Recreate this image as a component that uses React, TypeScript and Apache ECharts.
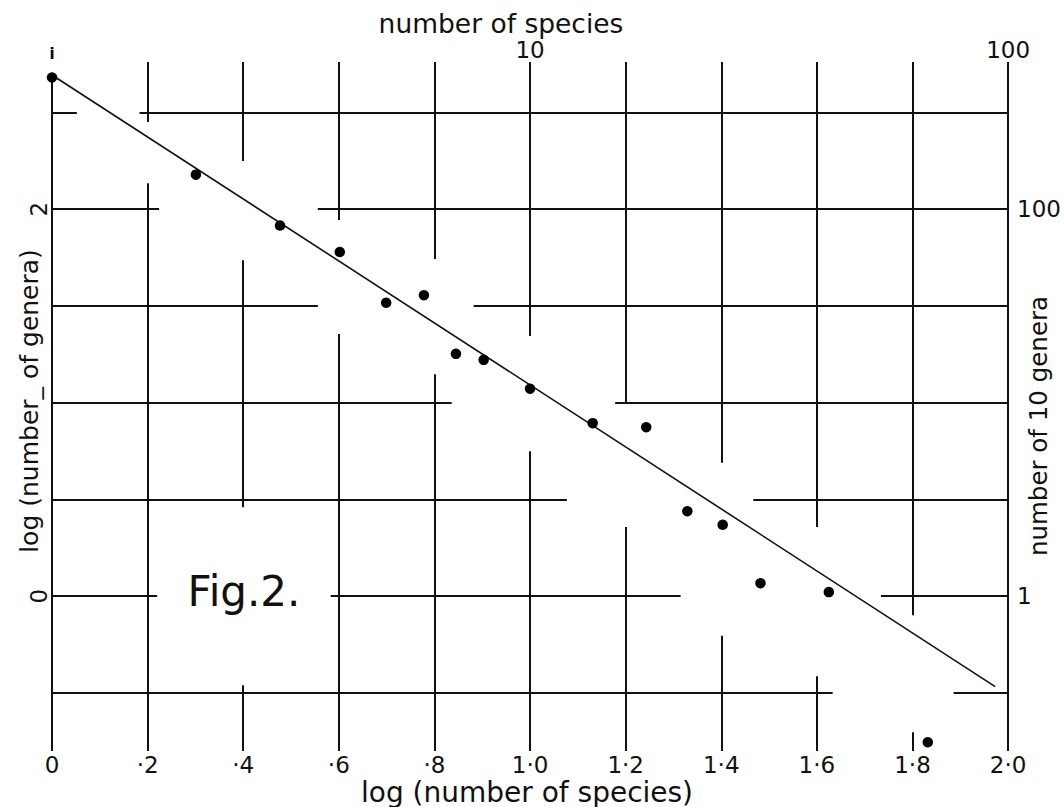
import React, { useEffect, useRef } from "react";
import * as echarts from "echarts";

// log10(number of species) and log10(number of genera)
const logSpecies = [0, 0.301, 0.477, 0.602, 0.699, 0.778, 0.845, 0.903, 1.0, 1.131, 1.243, 1.329, 1.403, 1.482, 1.625, 1.832];
const logGenera = [2.68, 2.178, 1.915, 1.778, 1.516, 1.555, 1.252, 1.221, 1.072, 0.894, 0.873, 0.439, 0.369, 0.067, 0.021, -0.755];

// fitted straight line (start, end)
const fitX = [0.008, 1.973];
const fitY = [2.68, -0.467];

// tick labels
const bottomTickValues = [0, 0.2, 0.4, 0.6, 0.8, 1.0, 1.2, 1.4, 1.6, 1.8, 2.0];
const bottomTickLabels = ["0", "·2", "·4", "·6", "·8", "1·0", "1·2", "1·4", "1·6", "1·8", "2·0"];
const topTickValues = [0, 1, 2];
const topTickLabels = ["{s|i}", "10", "100"];
const leftTickValues = [0, 2];
const leftTickLabels = ["0", "2"];
const rightTickValues = [0, 2];
const rightTickLabels = ["1", "100"];

// hand-drawn grid: vertical rules [x, yFrom, yTo] and horizontal rules [y, xFrom, xTo]
const verticalRules: number[][] = [
  [0, 2.68, -0.8],
  [0.2, 2.76, 2.45], [0.2, 2.134, -0.8],
  [0.4, 2.76, 2.248], [0.4, 1.736, 0.46], [0.4, -0.46, -0.8],
  [0.6, 2.76, 1.943], [0.6, 1.354, -0.8],
  [0.8, 2.76, 1.742], [0.8, 1.147, -0.8],
  [1.0, 2.76, 1.344], [1.0, 0.749, -0.8],
  [1.2, 2.76, 1.0], [1.2, 0.357, -0.8],
  [1.4, 2.76, 0.69], [1.4, -0.205, -0.8],
  [1.6, 2.76, 0.357], [1.6, -0.414, -0.8],
  [1.8, 2.76, -0.098], [1.8, -0.703, -0.8],
  [2.0, 2.76, -0.8],
];
const horizontalRules: number[][] = [
  [2.5, 0, 0.052], [2.5, 0.183, 2.0],
  [2.0, 0, 0.224], [2.0, 0.556, 2.0],
  [1.5, 0, 0.556], [1.5, 0.882, 2.0],
  [1.0, 0, 0.836], [1.0, 1.178, 2.0],
  [0.5, 0, 1.077], [0.5, 1.467, 2.0],
  [0.0, 0, 0.22], [0.0, 0.583, 1.315], [0.0, 1.734, 2.0],
  [-0.5, 0, 1.633], [-0.5, 1.886, 2.0],
];

const FONT = "DejaVu Sans";
const INK = "#111";

function pick(values: number[], labels: string[]) {
  return (v: number) => {
    for (let i = 0; i < values.length; i++) {
      if (Math.abs(v - values[i]) < 1e-6) return labels[i];
    }
    return "";
  };
}

export default function App() {
  const ref = useRef<HTMLDivElement>(null);

  useEffect(() => {
    if (!ref.current) return;
    const chart = echarts.init(ref.current, null, { renderer: "svg" });

    const ruleData = [
      ...verticalRules.map((r) => ({ coords: [[r[0], r[1]], [r[0], r[2]]] })),
      ...horizontalRules.map((r) => ({ coords: [[r[1], r[0]], [r[2], r[0]]] })),
    ];

    const hiddenAxis = {
      axisLine: { show: false },
      axisTick: { show: false },
      splitLine: { show: false },
    };

    chart.setOption({
      animation: false,
      backgroundColor: "#fff",
      textStyle: { fontFamily: FONT, color: INK },
      grid: { left: 52, right: 48, top: 62, bottom: 56 },
      xAxis: [
        {
          type: "value",
          position: "bottom",
          min: 0,
          max: 2,
          interval: 0.2,
          ...hiddenAxis,
          axisLabel: {
            formatter: pick(bottomTickValues, bottomTickLabels),
            fontSize: 23,
            fontFamily: FONT,
            color: INK,
            margin: 2,
            showMinLabel: true,
            showMaxLabel: true,
          },
        },
        {
          type: "value",
          position: "top",
          min: 0,
          max: 2,
          interval: 0.2,
          ...hiddenAxis,
          axisLabel: {
            formatter: pick(topTickValues, topTickLabels),
            fontSize: 23,
            fontFamily: FONT,
            color: INK,
            margin: 1,
            showMinLabel: true,
            showMaxLabel: true,
            rich: { s: { fontSize: 15, fontFamily: FONT, color: "#000", fontWeight: "bold" } },
          },
        },
      ],
      yAxis: [
        {
          type: "value",
          position: "left",
          min: -0.8,
          max: 2.76,
          interval: 0.2,
          ...hiddenAxis,
          axisLabel: {
            formatter: pick(leftTickValues, leftTickLabels),
            fontSize: 23,
            fontFamily: FONT,
            color: INK,
            rotate: 90,
            margin: 2,
            showMaxLabel: false,
          },
        },
        {
          type: "value",
          position: "right",
          min: -0.8,
          max: 2.76,
          interval: 0.2,
          ...hiddenAxis,
          axisLabel: {
            formatter: pick(rightTickValues, rightTickLabels),
            fontSize: 23,
            fontFamily: FONT,
            color: INK,
            margin: 9,
            showMaxLabel: false,
          },
        },
      ],
      series: [
        {
          type: "lines",
          coordinateSystem: "cartesian2d",
          xAxisIndex: 0,
          yAxisIndex: 0,
          silent: true,
          lineStyle: { color: INK, width: 2, opacity: 1 },
          data: ruleData,
          z: 1,
        },
        {
          type: "line",
          xAxisIndex: 0,
          yAxisIndex: 0,
          silent: true,
          symbol: "none",
          lineStyle: { color: INK, width: 1.6 },
          data: fitX.map((x, i) => [x, fitY[i]]),
          z: 2,
        },
        {
          type: "scatter",
          xAxisIndex: 0,
          yAxisIndex: 0,
          silent: true,
          symbol: "circle",
          symbolSize: 10.5,
          itemStyle: { color: "#000", opacity: 1 },
          data: logSpecies.map((x, i) => [x, logGenera[i]]),
          z: 3,
        },
      ],
      graphic: [
        {
          type: "text",
          x: 501,
          y: 23,
          style: { text: "number of species", font: `26.5px "${FONT}"`, fill: INK, align: "center", verticalAlign: "middle" },
        },
        {
          type: "text",
          x: 527,
          y: 792,
          style: { text: "log (number of species)", font: `28px "${FONT}"`, fill: INK, align: "center", verticalAlign: "middle" },
        },
        {
          type: "text",
          x: 29,
          y: 401,
          rotation: Math.PI / 2,
          style: { text: "log (number_ of genera)", font: `25px "${FONT}"`, fill: INK, align: "center", verticalAlign: "middle" },
        },
        {
          type: "text",
          x: 1038,
          y: 426,
          rotation: Math.PI / 2,
          style: { text: "number of 10 genera", font: `24.5px "${FONT}"`, fill: INK, align: "center", verticalAlign: "middle" },
        },
        {
          type: "text",
          x: 244,
          y: 591,
          style: { text: "Fig.2.", font: `42px "${FONT}"`, fill: INK, align: "center", verticalAlign: "middle" },
        },
      ],
    });

    return () => chart.dispose();
  }, []);

  return (
    <div
      ref={ref}
      style={{ position: "fixed", left: 0, top: 0, width: 1064, height: 807, background: "#fff" }}
    />
  );
}
